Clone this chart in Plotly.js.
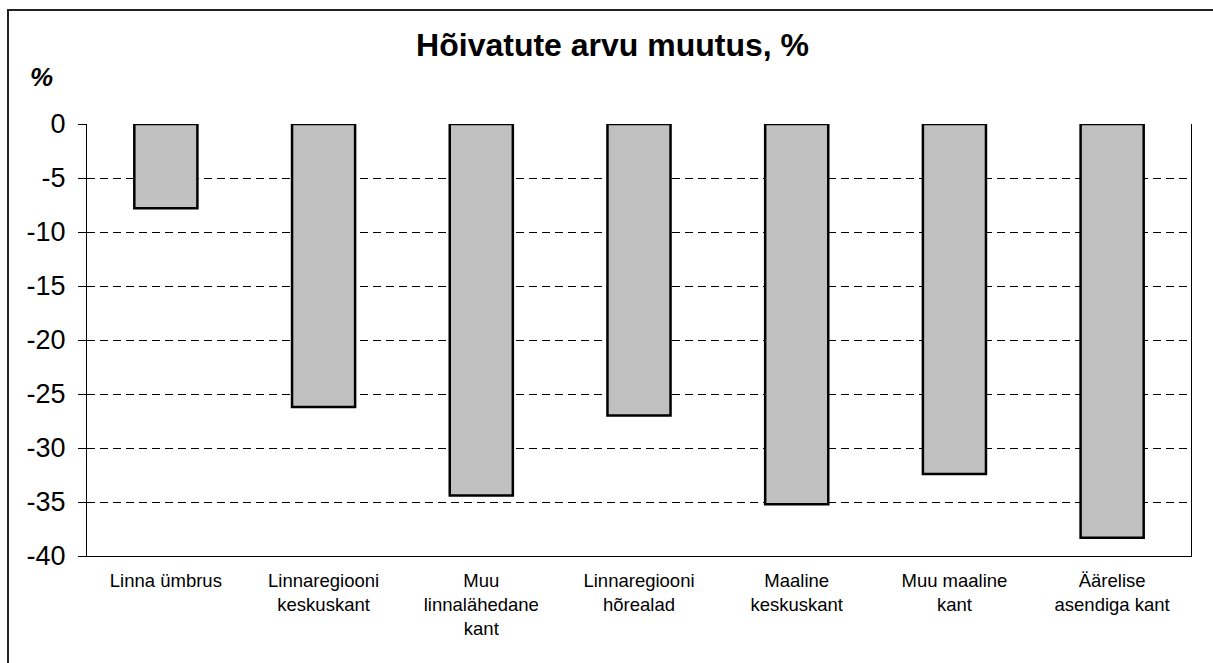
<!DOCTYPE html>
<html>
<head>
<meta charset="utf-8">
<script src="https://cdn.plot.ly/plotly-3.0.1.min.js"></script>
<style>
  html, body { margin: 0; padding: 0; background: #fff; overflow: hidden; }
  #frame { position: absolute; left: 7px; top: 9px; width: 1240px; height: 700px; border: 2px solid #222; box-sizing: border-box; }
  #chart { position: absolute; left: 0; top: 0; width: 1213px; height: 663px; }
</style>
</head>
<body>
<div id="frame"></div>
<div id="chart"></div>
<script>
// categories (x axis), multi-line labels as in the original
const categories = [
    'Linna ümbrus',
    'Linnaregiooni<br>keskuskant',
    'Muu<br>linnalähedane<br>kant',
    'Linnaregiooni<br>hõrealad',
    'Maaline<br>keskuskant',
    'Muu maaline<br>kant',
    'Äärelise<br>asendiga kant'
];

// change of employed persons, %
const changePct = [-7.8, -26.2, -34.4, -27.0, -35.2, -32.4, -38.3];

// y axis ticks
const yTickVals = [0, -5, -10, -15, -20, -25, -30, -35, -40];
const yTickText = ['0', '-5', '-10', '-15', '-20', '-25', '-30', '-35', '-40'];

const font = 'Arial, "Liberation Sans", sans-serif';

// tick marks on the zero line sit between the categories
const boundaries = categories.slice(1).map((c, i) => i + 0.5);

const data = [
    {
        type: 'bar',
        x: categories,
        y: changePct,
        marker: {
            color: '#c0c0c0',
            line: { color: '#000', width: 2.5 }
        },
        hoverinfo: 'x+y'
    }
];

const layout = {
    width: 1213,
    height: 663,
    margin: { l: 87, r: 22, t: 124, b: 107 },
    paper_bgcolor: 'rgba(0,0,0,0)',
    plot_bgcolor: '#fff',
    showlegend: false,
    bargap: 0.6,
    font: { family: font, color: '#000' },
    title: {
        text: '<b>Hõivatute arvu muutus, %</b>',
        font: { family: font, size: 32, color: '#000' },
        x: 0.505,
        xanchor: 'center',
        y: 0.932,
        yanchor: 'middle'
    },
    xaxis: {
        type: 'category',
        range: [-0.5, categories.length - 0.5],
        showline: true,
        linecolor: '#000',
        linewidth: 1,
        ticks: '',
        ticklabelstandoff: 8,
        tickfont: { family: font, size: 18.5, color: '#000' },
        showgrid: false,
        zeroline: false
    },
    xaxis2: {
        overlaying: 'x',
        anchor: 'y',
        side: 'top',
        range: [-0.5, categories.length - 0.5],
        tickvals: boundaries,
        ticks: 'inside',
        ticklen: 7,
        tickcolor: '#000',
        showticklabels: false,
        showline: true,
        linecolor: '#000',
        linewidth: 1,
        showgrid: false,
        zeroline: false
    },
    yaxis: {
        range: [-40, 0],
        tickvals: yTickVals,
        ticktext: yTickText,
        ticks: 'outside',
        ticklen: 8,
        tickcolor: '#000',
        ticklabelstandoff: 7,
        tickfont: { family: font, size: 27, color: '#000' },
        showline: true,
        mirror: true,
        linecolor: '#000',
        linewidth: 1,
        showgrid: true,
        gridcolor: '#000',
        gridwidth: 1,
        griddash: '8px,5px',
        zeroline: false
    },
    annotations: [
        {
            text: '<b><i>%</i></b>',
            xref: 'paper',
            yref: 'paper',
            x: 0,
            y: 1,
            xshift: -46,
            yshift: 47,
            xanchor: 'center',
            yanchor: 'middle',
            showarrow: false,
            font: { family: font, size: 26, color: '#000' }
        }
    ]
};

Plotly.newPlot('chart', data, layout, { displayModeBar: false, staticPlot: true });
</script>
</body>
</html>
